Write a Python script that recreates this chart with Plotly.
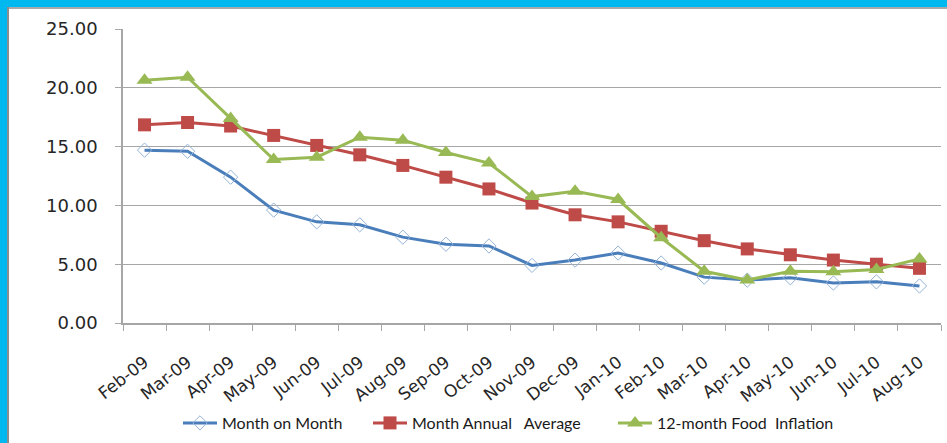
import plotly.graph_objects as go

months = ["Feb-09", "Mar-09", "Apr-09", "May-09", "Jun-09", "Jul-09", "Aug-09",
          "Sep-09", "Oct-09", "Nov-09", "Dec-09", "Jan-10", "Feb-10", "Mar-10",
          "Apr-10", "May-10", "Jun-10", "Jul-10", "Aug-10"]

month_on_month = [14.70, 14.60, 12.40, 9.60, 8.60, 8.35, 7.30, 6.70, 6.55, 4.90,
                  5.35, 5.95, 5.10, 3.90, 3.65, 3.85, 3.40, 3.50, 3.15]
annual_average = [16.85, 17.05, 16.75, 15.95, 15.10, 14.30, 13.40, 12.40, 11.40,
                  10.20, 9.20, 8.60, 7.80, 7.00, 6.30, 5.80, 5.35, 5.00, 4.65]
food_inflation = [20.65, 20.90, 17.40, 13.90, 14.10, 15.80, 15.55, 14.50, 13.60,
                  10.75, 11.20, 10.50, 7.25, 4.40, 3.65, 4.40, 4.35, 4.55, 5.45]

W, H = 947, 443
ML, MR, MT, MB = 123, 6, 29, 120
PW, PH = W - ML - MR, H - MT - MB


def px(x):
    return (x - ML) / PW


def py(y):
    return (H - MB - y) / PH


fig = go.Figure()

fig.add_trace(go.Scatter(
    x=months, y=month_on_month, mode="lines+markers", name="Month on Month",
    line=dict(color="#4a7ebb", width=3),
    marker=dict(symbol="diamond-open", size=11, color="#95b3d7", line=dict(width=1)),
    legend="legend",
))
fig.add_trace(go.Scatter(
    x=months, y=annual_average, mode="lines+markers", name="Month Annual   Average",
    line=dict(color="#be4b48", width=3),
    marker=dict(symbol="square", size=13, color="#be4b48"),
    legend="legend2",
))
fig.add_trace(go.Scatter(
    x=months, y=food_inflation, mode="lines+markers", name="12-month Food  Inflation",
    line=dict(color="#98b954", width=3),
    marker=dict(symbol="triangle-up", size=14, color="#98b954"),
    legend="legend3",
))

shapes = [
    # cyan frame on the left and top
    dict(type="rect", xref="paper", yref="paper", x0=px(0), x1=px(7), y0=py(H), y1=py(0),
         fillcolor="#00b8f0", line=dict(width=0), layer="below"),
    dict(type="rect", xref="paper", yref="paper", x0=px(0), x1=px(W), y0=py(7), y1=py(0),
         fillcolor="#00b8f0", line=dict(width=0), layer="below"),
    dict(type="line", xref="paper", yref="paper", x0=px(8), x1=px(8), y0=py(H), y1=py(7),
         line=dict(color="#8c8c8c", width=2), layer="below"),
    dict(type="line", xref="paper", yref="paper", x0=px(8), x1=px(W), y0=py(8), y1=py(8),
         line=dict(color="#8c8c8c", width=1.5), layer="below"),
]


def legend_at(x_px):
    return dict(orientation="h", x=px(x_px), xanchor="left", y=py(423), yanchor="middle",
                font=dict(family="Lato", size=16, color="#1a1a1a"), itemwidth=34,
                bgcolor="rgba(0,0,0,0)", borderwidth=0)


fig.update_layout(
    width=W, height=H,
    margin=dict(l=ML, r=MR, t=MT, b=MB, autoexpand=False),
    paper_bgcolor="white", plot_bgcolor="white",
    shapes=shapes,
    font=dict(family="DejaVu Sans", color="#262626"),
    showlegend=True,
    legend=legend_at(178),
    legend2=legend_at(368),
    legend3=legend_at(613),
    xaxis=dict(
        type="category", range=[-0.5, len(months) - 0.5], automargin=False,
        tickangle=-38, tickfont=dict(size=17, family="DejaVu Sans"),
        showline=True, linecolor="#a6a6a6", linewidth=1.5,
        ticks="outside", ticklen=6, tickcolor="#a6a6a6", tickson="boundaries",
        ticklabelstandoff=21, showgrid=False,
    ),
    yaxis=dict(
        range=[0, 25], dtick=5, tickformat=".2f", automargin=False,
        tickfont=dict(size=18, family="DejaVu Sans"),
        showline=True, linecolor="#a6a6a6", linewidth=1.5,
        ticks="outside", ticklen=6, tickcolor="#a6a6a6", ticklabelstandoff=14,
        showgrid=True, gridcolor="#a6a6a6", gridwidth=1.2,
        zeroline=False,
    ),
)

# drop the browser's default body margin so the figure fills the window
fig.write_html("out.html", config={"displayModeBar": False},
               post_script="document.body.style.margin = '0';")
